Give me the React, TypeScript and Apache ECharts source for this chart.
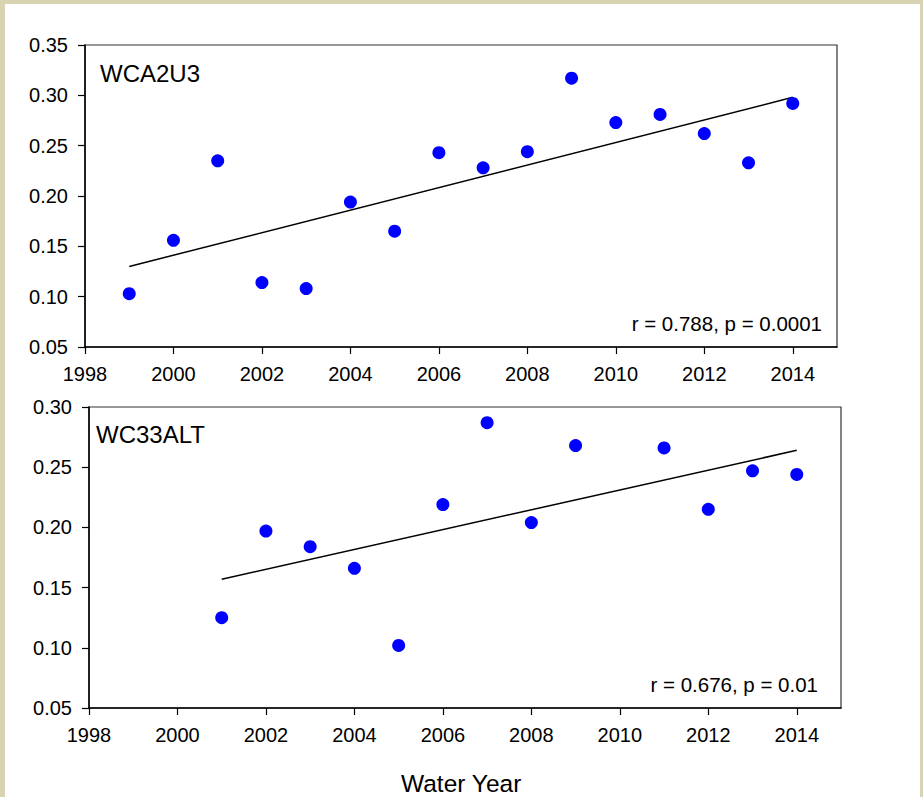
import React, { useEffect, useRef } from "react";
import * as echarts from "echarts";

const years1 = [1999, 2000, 2001, 2002, 2003, 2004, 2005, 2006, 2007, 2008, 2009, 2010, 2011, 2012, 2013, 2014];
const values1 = [0.103, 0.156, 0.235, 0.114, 0.108, 0.194, 0.165, 0.243, 0.228, 0.244, 0.317, 0.273, 0.281, 0.262, 0.233, 0.292];
const trendYears1 = [1999, 2014];
const trendValues1 = [0.130, 0.298];

const years2 = [2001, 2002, 2003, 2004, 2005, 2006, 2007, 2008, 2009, 2011, 2012, 2013, 2014];
const values2 = [0.125, 0.197, 0.184, 0.166, 0.102, 0.219, 0.287, 0.204, 0.268, 0.266, 0.215, 0.247, 0.244];
const trendYears2 = [2001, 2014];
const trendValues2 = [0.157, 0.264];

const xTicks = [1998, 2000, 2002, 2004, 2006, 2008, 2010, 2012, 2014];

const title1 = "WCA2U3";
const title2 = "WC33ALT";
const stat1 = "r = 0.788, p = 0.0001";
const stat2 = "r = 0.676, p = 0.01";
const xTitle = "Water Year";

const FONT = "'Liberation Sans', Arial, sans-serif";
const TICK_FONT = 20;

function xAxisFor(gridIndex: number) {
  return {
    type: "value",
    gridIndex,
    min: 1998,
    max: 2015,
    interval: 2,
    splitLine: { show: false },
    axisLine: { show: true, onZero: false, lineStyle: { color: "#000", width: 1.5 } },
    axisTick: { show: true, inside: false, length: 7, customValues: xTicks, lineStyle: { color: "#000", width: 1.2 } },
    axisLabel: {
      show: true,
      margin: 17,
      showMaxLabel: false,
      fontSize: TICK_FONT,
      fontFamily: FONT,
      color: "#000",
      formatter: (v: number) => (v % 2 === 0 ? String(v) : ""),
    },
  };
}

function yAxisFor(gridIndex: number, min: number, max: number) {
  return {
    type: "value",
    gridIndex,
    min,
    max,
    interval: 0.05,
    splitLine: { show: false },
    axisLine: { show: true, onZero: false, lineStyle: { color: "#000", width: 1.5 } },
    axisTick: { show: true, inside: false, length: 7, lineStyle: { color: "#000", width: 1.2 } },
    axisLabel: {
      show: true,
      margin: 17,
      fontSize: TICK_FONT,
      fontFamily: FONT,
      color: "#000",
      formatter: (v: number) => v.toFixed(2),
    },
  };
}

function pairs(xs: number[], ys: number[]) {
  return xs.map((x, i) => [x, ys[i]]);
}

export default function App() {
  const ref = useRef<HTMLDivElement>(null);
  useEffect(() => {
    if (!ref.current) return;
    const chart = echarts.init(ref.current, null, { renderer: "svg" });
    const option = {
      animation: false,
      backgroundColor: "#ffffff",
      textStyle: { fontFamily: FONT },
      grid: [
        { left: 80, top: 41, width: 752, height: 302, show: true, borderColor: "#333", borderWidth: 1.2, backgroundColor: "transparent" },
        { left: 84, top: 403, width: 752, height: 301, show: true, borderColor: "#333", borderWidth: 1.2, backgroundColor: "transparent" },
      ],
      xAxis: [xAxisFor(0), xAxisFor(1)],
      yAxis: [yAxisFor(0, 0.05, 0.35), yAxisFor(1, 0.05, 0.3)],
      series: [
        {
          type: "line",
          xAxisIndex: 0,
          yAxisIndex: 0,
          data: pairs(trendYears1, trendValues1),
          showSymbol: false,
          symbol: "none",
          lineStyle: { color: "#000", width: 1.5 },
          z: 1,
        },
        {
          type: "scatter",
          xAxisIndex: 0,
          yAxisIndex: 0,
          data: pairs(years1, values1),
          symbolSize: 13,
          itemStyle: { color: "#0000ff", opacity: 1 },
          z: 2,
        },
        {
          type: "line",
          xAxisIndex: 1,
          yAxisIndex: 1,
          data: pairs(trendYears2, trendValues2),
          showSymbol: false,
          symbol: "none",
          lineStyle: { color: "#000", width: 1.5 },
          z: 1,
        },
        {
          type: "scatter",
          xAxisIndex: 1,
          yAxisIndex: 1,
          data: pairs(years2, values2),
          symbolSize: 13,
          itemStyle: { color: "#0000ff", opacity: 1 },
          z: 2,
        },
      ],
      graphic: [
        { type: "text", left: 95, top: 57, style: { text: title1, fontSize: 24, fontFamily: FONT, fill: "#000" } },
        { type: "text", left: 91, top: 418, style: { text: title2, fontSize: 24, fontFamily: FONT, fill: "#000" } },
        { type: "text", right: 98, top: 309, style: { text: stat1, fontSize: 20.5, fontFamily: FONT, fill: "#000" } },
        { type: "text", right: 102, top: 670, style: { text: stat2, fontSize: 20.5, fontFamily: FONT, fill: "#000" } },
        { type: "text", left: 396, top: 767, style: { text: xTitle, fontSize: 24.5, fontFamily: FONT, fill: "#000" } },
      ],
    };
    chart.setOption(option as any);
    return () => chart.dispose();
  }, []);
  return (
    <div style={{ position: "fixed", left: 0, top: 0, width: 923, height: 797, background: "#d8d4b2" }}>
      <div ref={ref} style={{ position: "absolute", left: 5, top: 4, width: 915, height: 793, background: "#fff" }} />
    </div>
  );
}
